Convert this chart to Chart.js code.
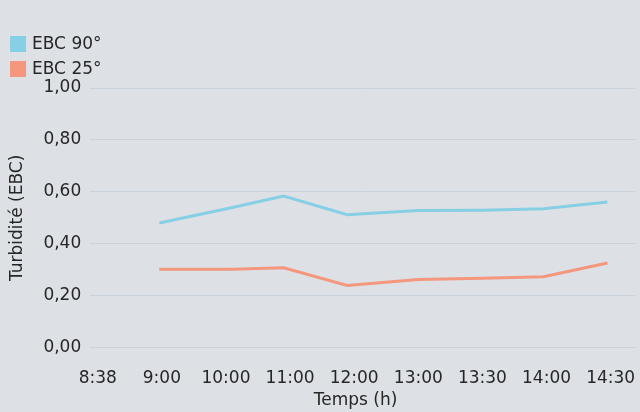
<!DOCTYPE html>
<html>
<head>
<meta charset="utf-8">
<script src="https://cdn.jsdelivr.net/npm/chart.js@4/dist/chart.umd.min.js"></script>
<style>
  html, body { margin: 0; padding: 0; background: #dde1e6; }
  #wrap { width: 640px; height: 412px; position: relative; }
  canvas { display: block; }
</style>
</head>
<body>
<div id="wrap"><canvas id="chart" width="640" height="412"></canvas></div>
<script>
// Tick labels along the time axis (one per step)
const timeLabels = ['8:38', '9:00', '10:00', '11:00', '12:00', '13:00', '13:30', '14:00', '14:30'];
// Sampling positions, in axis steps counted from 8:38
const sampleTimes = [0.96, 2.1, 2.9, 3.89, 5.0, 6.0, 6.95, 7.95];
// Turbidity readings (EBC)
const ebc90 = [0.480, 0.540, 0.584, 0.512, 0.528, 0.529, 0.535, 0.561];
const ebc25 = [0.302, 0.302, 0.308, 0.240, 0.263, 0.267, 0.273, 0.326];
const seriesNames = ['EBC 90°', 'EBC 25°'];
const seriesColors = ['#86cfe4', '#f4977c'];

const FONT = '"DejaVu Sans", sans-serif';
const TEXT = '#262626';
const GRID = '#c8d3dd';

const toPoints = (ys) => sampleTimes.map((x, i) => ({ x, y: ys[i] }));

// Legend drawn as a vertical stack in the top-left corner
const stackedLegend = {
  id: 'stackedLegend',
  afterDraw(chart) {
    const ctx = chart.ctx;
    ctx.save();
    ctx.font = '17px ' + FONT;
    ctx.textBaseline = 'middle';
    ctx.textAlign = 'left';
    chart.data.datasets.forEach((ds, i) => {
      const top = 36 + i * 25;
      ctx.fillStyle = ds.borderColor;
      ctx.fillRect(10, top, 16, 16);
      ctx.fillStyle = TEXT;
      ctx.fillText(ds.label, 32, top + 8.5);
    });
    ctx.restore();
  }
};

new Chart(document.getElementById('chart'), {
  type: 'line',
  data: {
    datasets: [
      { label: seriesNames[0], data: toPoints(ebc90), borderColor: seriesColors[0], backgroundColor: seriesColors[0] },
      { label: seriesNames[1], data: toPoints(ebc25), borderColor: seriesColors[1], backgroundColor: seriesColors[1] }
    ]
  },
  options: {
    responsive: false,
    animation: false,
    layout: { padding: { top: 88, right: 5, bottom: 0, left: 0 } },
    elements: {
      line: { borderWidth: 3, tension: 0, fill: false },
      point: { radius: 0, hoverRadius: 0 }
    },
    plugins: {
      legend: { display: false },
      tooltip: { enabled: false }
    },
    scales: {
      x: {
        type: 'linear',
        min: 0,
        max: 8.38,
        // invisible tick marks give the gap under the plot
        grid: { display: true, drawOnChartArea: false, drawTicks: true, tickLength: 20.5, color: 'rgba(0,0,0,0)' },
        border: { display: false },
        ticks: {
          stepSize: 1,
          includeBounds: false,
          autoSkip: false,
          maxRotation: 0,
          padding: 0,
          color: TEXT,
          font: { family: FONT, size: 17 },
          callback: (v) => timeLabels[v] ?? ''
        },
        title: {
          display: true,
          text: 'Temps (h)    ',
          color: TEXT,
          font: { family: FONT, size: 17 },
          padding: { top: 2, bottom: 1 }
        }
      },
      y: {
        min: 0,
        max: 1,
        grid: { color: GRID, lineWidth: 1, drawTicks: true, tickLength: 8 },
        border: { display: false },
        ticks: {
          stepSize: 0.2,
          padding: 8.5,
          color: TEXT,
          font: { family: FONT, size: 17 },
          callback: (v) => v.toFixed(2).replace('.', ',')
        },
        title: {
          display: true,
          text: 'Turbidité (EBC)',
          color: TEXT,
          font: { family: FONT, size: 17 },
          padding: { top: 7, bottom: 7.5 }
        }
      }
    }
  },
  plugins: [stackedLegend]
});
</script>
</body>
</html>
